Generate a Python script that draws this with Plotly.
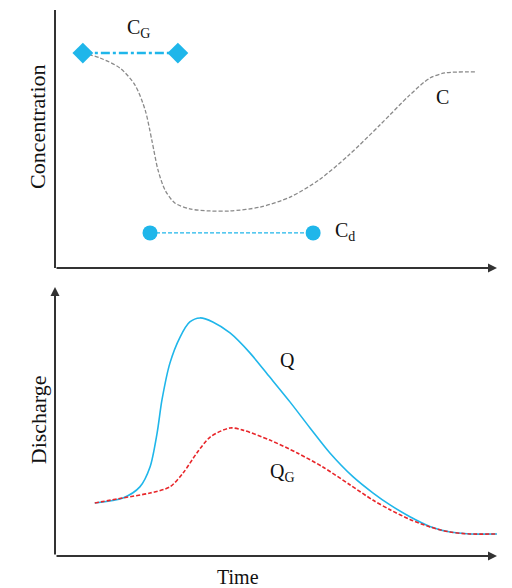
import plotly.graph_objects as go

# ---- data (time 0..100, arbitrary units 0..100) ----
c_time = [6.3, 10.2, 14.7, 18.1, 20.4, 21.9, 23.3, 24.9, 27.1, 30.5, 35.1, 39.6, 46.4, 53.2, 59.7, 66.5, 73.5, 80.3, 84.8, 88.2, 95.0]
c_vals = [83.3, 81.4, 77.5, 70.9, 61.2, 49.6, 38.0, 30.2, 25.2, 22.9, 22.1, 22.1, 23.6, 27.5, 34.1, 43.8, 55.4, 67.1, 73.6, 75.6, 76.0]

cg_time = [6.3, 27.8]
cg_vals = [83.3, 83.3]

cd_time = [21.5, 58.4]
cd_vals = [13.6, 13.6]

q_time = [9.0, 15.4, 19.2, 21.5, 23.1, 24.2, 26.0, 28.3, 30.5, 32.8, 35.7, 39.6, 44.1, 48.6, 53.2, 57.7, 62.2, 67.4, 71.9, 75.8, 80.3, 84.8, 89.4, 93.9, 100.0]
q_vals = [19.7, 21.6, 25.7, 33.1, 45.7, 58.0, 71.7, 81.4, 87.0, 88.5, 87.0, 82.9, 75.5, 66.5, 57.2, 47.6, 38.3, 29.5, 23.5, 19.0, 14.6, 11.0, 8.9, 8.2, 8.2]

qg_time = [9.0, 15.4, 21.5, 26.0, 29.0, 32.1, 35.1, 39.6, 42.5, 48.6, 54.8, 60.6, 66.7, 71.9, 75.8, 80.3, 84.8, 89.4, 93.9, 100.0]
qg_vals = [19.7, 21.6, 23.4, 25.7, 30.9, 38.3, 44.2, 47.6, 46.8, 43.1, 38.3, 33.1, 26.5, 20.8, 17.2, 13.6, 10.8, 8.9, 8.2, 8.2]

labels = {"C": (87.6, 66.3), "CG": (18.8, 93.0), "Cd": (65.6, 14.0), "Q": (52.5, 73.0), "QG": (51.5, 31.0)}

BLUE = "#1fb6ea"
RED = "#e8262a"
GRAY = "#8a8a8a"
AX = "#333333"
FONT = "Liberation Serif"

fig = go.Figure()

fig.add_trace(go.Scatter(x=c_time, y=c_vals, mode="lines", line=dict(color=GRAY, width=1.3, dash="4px,2px", shape="spline", smoothing=0.8), xaxis="x", yaxis="y"))
fig.add_trace(go.Scatter(x=cg_time, y=cg_vals, mode="lines+markers", line=dict(color=BLUE, width=2.5, dash="dashdot"),
                         marker=dict(symbol="diamond", size=16, color=BLUE), xaxis="x", yaxis="y"))
fig.add_trace(go.Scatter(x=cd_time, y=cd_vals, mode="lines+markers", line=dict(color=BLUE, width=1.3, dash="4px,2px"),
                         marker=dict(symbol="circle", size=15, color=BLUE), xaxis="x", yaxis="y"))

fig.add_trace(go.Scatter(x=q_time, y=q_vals, mode="lines", line=dict(color=BLUE, width=1.6, shape="spline", smoothing=0.8), xaxis="x2", yaxis="y2"))
fig.add_trace(go.Scatter(x=qg_time, y=qg_vals, mode="lines", line=dict(color=RED, width=1.6, dash="4px,2px", shape="spline", smoothing=0.8), xaxis="x2", yaxis="y2"))

ann = []
def lab(text, xy, xr, yr):
    ann.append(dict(text=text, x=xy[0], y=xy[1], xref=xr, yref=yr, showarrow=False,
                    font=dict(family=FONT, size=20, color="#111")))
lab("C", labels["C"], "x", "y")
lab("C<sub>G</sub>", labels["CG"], "x", "y")
lab("C<sub>d</sub>", labels["Cd"], "x", "y")
lab("Q", labels["Q"], "x2", "y2")
lab("Q<sub>G</sub>", labels["QG"], "x2", "y2")

# axis arrows
for xr, yr in (("x domain", "y domain"), ("x2 domain", "y2 domain")):
    ann.append(dict(x=1, y=0, ax=0, ay=0, xref=xr, yref=yr, axref=xr, ayref=yr, text="", showarrow=True,
                    arrowhead=2, arrowsize=0.9, arrowwidth=2, arrowcolor=AX))
ann.append(dict(x=0, y=1, ax=0, ay=0, xref="x2 domain", yref="y2 domain", axref="x2 domain", ayref="y2 domain", text="",
                showarrow=True, arrowhead=2, arrowsize=0.9, arrowwidth=2, arrowcolor=AX))

ann.append(dict(text="Concentration", x=-0.038, y=0.786, xref="paper", yref="paper", showarrow=False, textangle=-90,
                xanchor="center", yanchor="middle", font=dict(family=FONT, size=22, color="#111")))
ann.append(dict(text="Discharge", x=-0.038, y=0.249, xref="paper", yref="paper", showarrow=False, textangle=-90,
                xanchor="center", yanchor="middle", font=dict(family=FONT, size=22, color="#111")))
ann.append(dict(text="Time", x=0.413, y=-0.038, xref="paper", yref="paper", showarrow=False, xanchor="center", yanchor="middle",
                font=dict(family=FONT, size=20, color="#111")))

shapes = [dict(type="line", xref="x domain", yref="y domain", x0=0, x1=0, y0=0, y1=1, line=dict(color=AX, width=2))]

# the page body adds an 8px offset, so the figure is 8px smaller and margins shifted
fig.update_layout(
    width=504, height=580,
    margin=dict(l=47, r=15, t=2, b=32, autoexpand=False),
    plot_bgcolor="white", paper_bgcolor="white",
    showlegend=False,
    xaxis=dict(domain=[0, 1], range=[0, 100], visible=False, anchor="y"),
    yaxis=dict(domain=[0.5275, 1], range=[0, 100], visible=False, anchor="x"),
    xaxis2=dict(domain=[0, 1], range=[0, 100], visible=False, anchor="y2"),
    yaxis2=dict(domain=[0, 0.4927], range=[0, 100], visible=False, anchor="x2"),
    annotations=ann, shapes=shapes,
)

fig.write_html("out.html")
